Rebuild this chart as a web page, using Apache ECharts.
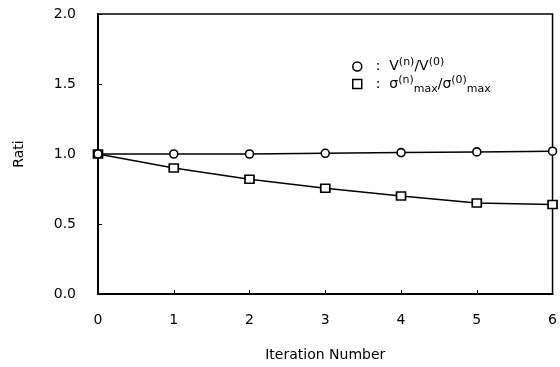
<!DOCTYPE html>
<html>
<head>
<meta charset="utf-8">
<script src="https://cdn.jsdelivr.net/npm/echarts@6/dist/echarts.min.js"></script>
<style>html,body{margin:0;padding:0;background:#fff}#c{width:560px;height:367px}</style>
</head>
<body>
<div id="c"></div>
<script>
var iterations = [0, 1, 2, 3, 4, 5, 6];
var volumeRatio = [1.0, 1.0, 1.0, 1.005, 1.01, 1.015, 1.02];
var stressRatio = [1.0, 0.90, 0.82, 0.755, 0.70, 0.65, 0.64];

var font = '"DejaVu Sans", "Liberation Sans", Arial, sans-serif';
var chart = echarts.init(document.getElementById('c'));
var rich = {
  m: {fontSize: 14, fontFamily: font, color: '#000', lineHeight: 21, verticalAlign: 'middle'},
  sup: {fontSize: 11, fontFamily: font, color: '#000', lineHeight: 21, verticalAlign: 'top', padding: [1, 0, 0, 0]},
  sub: {fontSize: 11, fontFamily: font, color: '#000', lineHeight: 21, verticalAlign: 'bottom', padding: [0, 0, 0, 0]}
};
chart.setOption({
  animation: false,
  backgroundColor: '#fff',
  grid: {left: 98, right: 5, top: 14, bottom: 65, show: true, borderColor: '#000', borderWidth: 1.5, backgroundColor: 'transparent'},
  legend: {
    orient: 'vertical', left: 347, top: 51, itemGap: 0, itemWidth: 9, itemHeight: 9,
    data: [{name: 'V', icon: 'circle'}, {name: 'S', icon: 'rect'}],
    itemStyle: {color: '#fff', borderColor: '#000', borderWidth: 1.5},
    formatter: function (n) {
      if (n === 'V') return '{m|  :  V}{sup|(n)}{m|/V}{sup|(0)}';
      return '{m|  :  σ}{sup|(n)}{sub|max}{m|/σ}{sup|(0)}{sub|max}';
    },
    textStyle: {rich: rich, fontFamily: font, fontSize: 14, color: '#000'}
  },
  xAxis: {
    type: 'value', min: 0, max: 6, interval: 1,
    name: 'Iteration Number', nameLocation: 'middle', nameGap: 54,
    nameTextStyle: {fontFamily: font, fontSize: 14, color: '#000'},
    axisLine: {show: true, lineStyle: {color: '#000', width: 2}},
    axisTick: {show: true, inside: true, length: 4, lineStyle: {color: '#000'}},
    axisLabel: {fontFamily: font, fontSize: 14, color: '#000', margin: 19},
    splitLine: {show: false}
  },
  yAxis: {
    type: 'value', min: 0, max: 2, interval: 0.5,
    name: 'Rati', nameLocation: 'middle', nameGap: 72, nameRotate: 90,
    nameTextStyle: {fontFamily: font, fontSize: 14, color: '#000'},
    axisLine: {show: true, lineStyle: {color: '#000', width: 2}},
    axisTick: {show: true, inside: true, length: 4, lineStyle: {color: '#000'}},
    axisLabel: {fontFamily: font, fontSize: 14, color: '#000', margin: 22,
      formatter: function (v) { return v.toFixed(1); }},
    splitLine: {show: false}
  },
  series: [
    {
      name: 'V', type: 'line', clip: false,
      data: iterations.map(function (x, i) { return [x, volumeRatio[i]]; }),
      symbol: 'circle', symbolSize: 8,
      itemStyle: {color: '#fff', borderColor: '#000', borderWidth: 1.6},
      lineStyle: {color: '#000', width: 1.5}, z: 3
    },
    {
      name: 'S', type: 'line', clip: false,
      data: iterations.map(function (x, i) { return [x, stressRatio[i]]; }),
      symbol: 'rect', symbolSize: [9, 8],
      itemStyle: {color: '#fff', borderColor: '#000', borderWidth: 1.6},
      lineStyle: {color: '#000', width: 1.5}, z: 2
    }
  ]
});
</script>
</body>
</html>
